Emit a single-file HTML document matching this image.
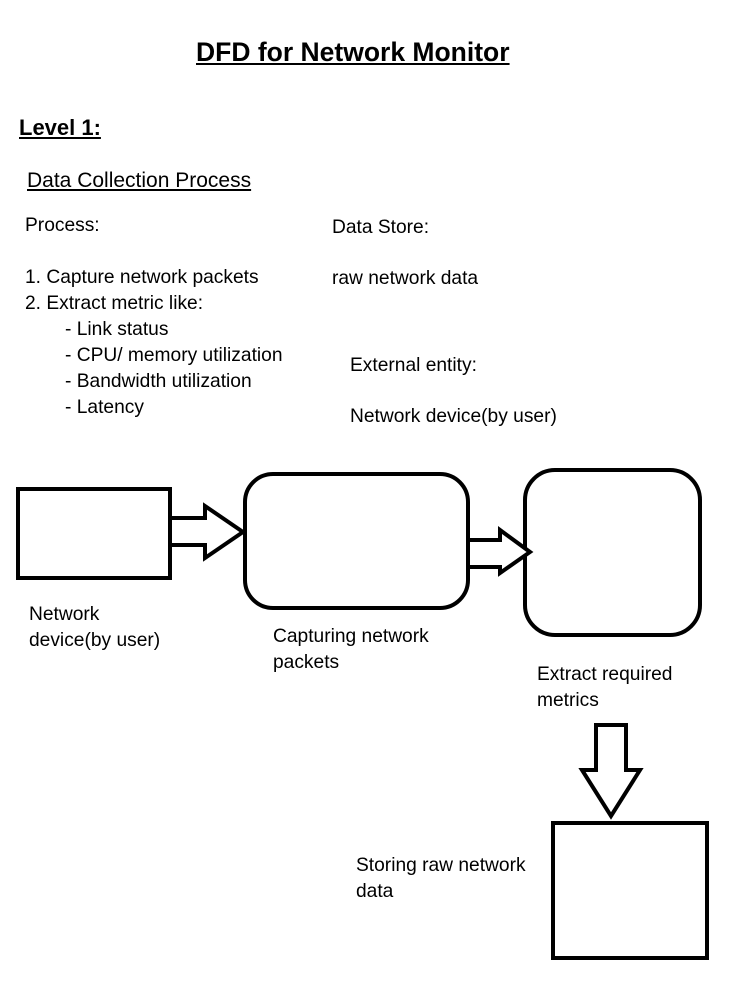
<!DOCTYPE html>
<html><head><style>
body{margin:0;width:731px;height:984px;background:#fff;position:relative;font-family:"Liberation Sans",sans-serif;color:#000;overflow:hidden}
.t{position:absolute;font-size:19.2px;white-space:nowrap;line-height:26px}
</style></head><body>
<div class="t" style="left:196px;top:39px;font-size:26.5px;font-weight:bold;text-decoration:underline">DFD for Network Monitor</div>
<div class="t" style="left:19px;top:115px;font-size:22px;font-weight:bold;text-decoration:underline">Level 1:</div>
<div class="t" style="left:27px;top:168px;font-size:21px;text-decoration:underline">Data Collection Process</div>
<div class="t" style="left:25px;top:213px">Process:</div>
<div class="t" style="left:332px;top:215px">Data Store:</div>
<div class="t" style="left:25px;top:265px">1. Capture network packets</div>
<div class="t" style="left:332px;top:266px">raw network data</div>
<div class="t" style="left:25px;top:291px">2. Extract metric like:</div>
<div class="t" style="left:65px;top:317px">- Link status</div>
<div class="t" style="left:65px;top:343px">- CPU/ memory utilization</div>
<div class="t" style="left:350px;top:353px">External entity:</div>
<div class="t" style="left:65px;top:369px">- Bandwidth utilization</div>
<div class="t" style="left:65px;top:395px">- Latency</div>
<div class="t" style="left:350px;top:404px">Network device(by user)</div>
<div class="t" style="left:29px;top:602px">Network<br>device(by user)</div>
<div class="t" style="left:273px;top:624px">Capturing network<br>packets</div>
<div class="t" style="left:537px;top:662px">Extract required<br>metrics</div>
<div class="t" style="left:356px;top:853px">Storing raw network<br>data</div>
<svg width="731" height="984" style="position:absolute;left:0;top:0" fill="none" stroke="#000" stroke-width="4" stroke-linejoin="miter">
<rect x="18" y="489" width="152" height="89"/>
<rect x="245" y="474" width="223" height="134" rx="28"/>
<rect x="525" y="470" width="175" height="165" rx="30"/>
<polygon points="170,518 205,518 205,506 243,532 205,558 205,545 170,545" fill="#fff"/>
<polygon points="468,540 500,540 500,530 530,552 500,573 500,567 468,567" fill="#fff"/>
<polygon points="596,725 626,725 626,770 640,770 611,816 582,770 596,770" fill="#fff"/>
<rect x="553" y="823" width="154" height="135"/>
</svg>
</body></html>
